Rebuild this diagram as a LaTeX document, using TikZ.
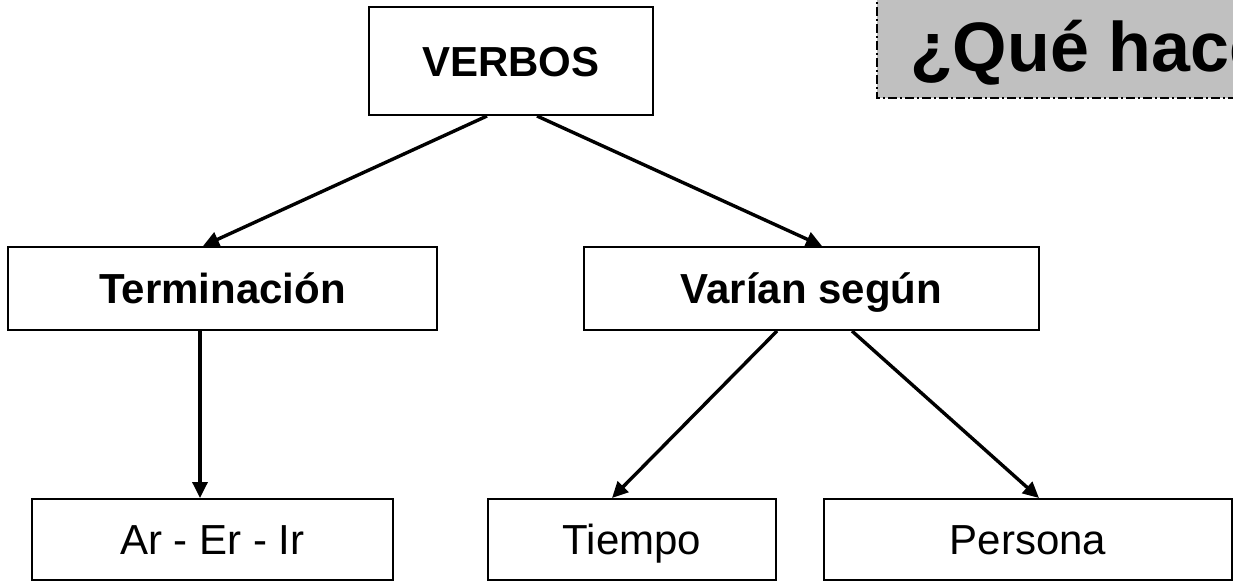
\documentclass[tikz,border=0pt]{standalone}
\usepackage{fontspec}
\setmainfont{Liberation Sans}
\usetikzlibrary{arrows.meta}
\definecolor{titlegray}{HTML}{C0C0C0}
\tikzset{
  boxnode/.style={draw=black, line width=2pt, fill=white, inner sep=0pt,
    font=\fontsize{42}{50}\selectfont, text height=30pt, text depth=0pt},
  boldbox/.style={boxnode, font=\fontsize{42}{50}\selectfont\bfseries},
  arr/.style={line width=3.4pt, -{Triangle[length=16pt,width=15pt]}},
}
\begin{document}
\begin{tikzpicture}[x=1pt,y=-1pt]
\clip (0,0) rectangle (1233,582);
\fill[white] (0,0) rectangle (1233,582);
% title box
\fill[titlegray] (877,-10) rectangle (1250,98);
\draw[line width=1.6pt, dash pattern=on 9pt off 3pt on 2pt off 3pt]
  (877,-10) -- (877,98) -- (1250,98);
\node[anchor=base west, inner sep=0pt, font=\fontsize{70}{80}\selectfont\bfseries] (title) at (910,71) {¿Qué hacen};
% nodes
\node[boldbox, minimum width=284pt, minimum height=108pt] (verbos) at (511,61) {VERBOS};
\node[boldbox, minimum width=429pt, minimum height=83pt] (term) at (222.5,288.5) {Terminación};
\node[boldbox, minimum width=455pt, minimum height=83pt] (varian) at (811.5,288.5) {Varían según};
\node[boxnode, minimum width=361pt, minimum height=81pt] (ar) at (212.5,539.5) {Ar - Er - Ir};
\node[boxnode, minimum width=288pt, minimum height=81pt] (tiempo) at (632,539.5) {Tiempo};
\node[boxnode, minimum width=408pt, minimum height=81pt] (persona) at (1028,539.5) {Persona};
% connectors
\draw[arr] ([xshift=-24pt]verbos.south) -- ([xshift=-19.5pt]term.north);
\draw[arr] ([xshift=26pt]verbos.south) -- ([xshift=10.5pt]varian.north);
\draw[arr] ([xshift=-22.5pt]term.south) -- ([xshift=-12.5pt]ar.north);
\draw[arr] ([xshift=-34.5pt]varian.south) -- ([xshift=-20pt]tiempo.north);
\draw[arr] ([xshift=40.5pt]varian.south) -- ([xshift=11pt]persona.north);
\end{tikzpicture}
\end{document}
